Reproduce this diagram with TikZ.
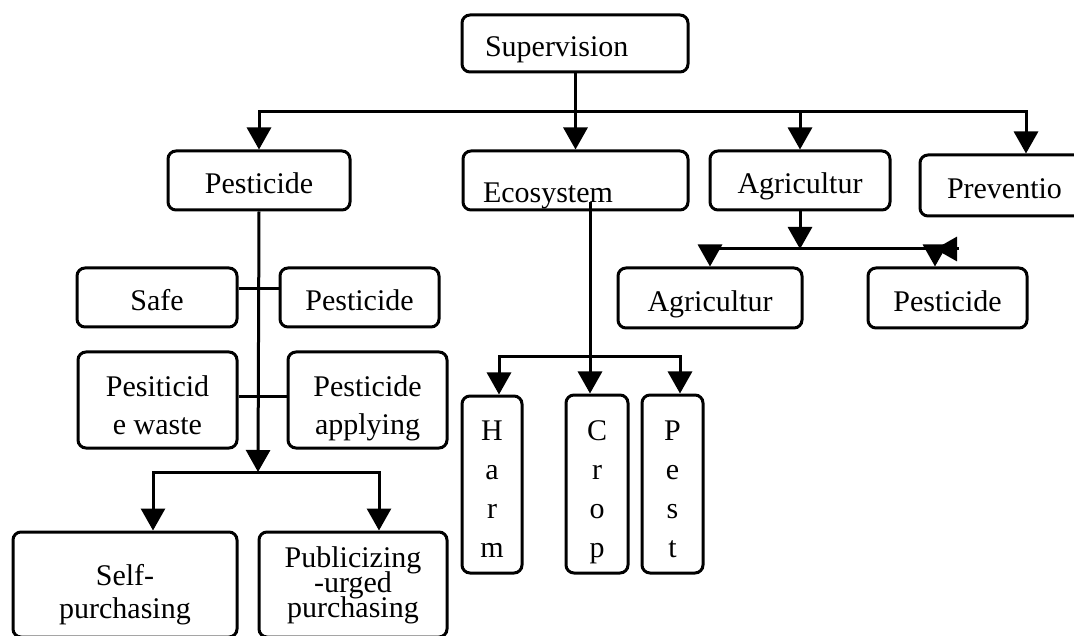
\documentclass[tikz,border=0pt]{standalone}
\usepackage{fontspec}
\setmainfont{Liberation Serif}
\usepackage{tikz}
\usetikzlibrary{arrows.meta, positioning}
\newcommand{\tightlines}{\lineskiplimit=-50pt\relax}

\begin{document}
\begin{tikzpicture}[x=1pt, y=-1pt,
    box/.style={draw, line width=3pt, rounded corners=8pt, inner sep=0pt,
                font=\fontsize{30}{39}\selectfont, text height=27pt, text depth=0pt},
    tallbox/.style={draw, line width=3pt, rounded corners=8pt, inner sep=0pt, align=center,
                font=\fontsize{30}{38}\selectfont\tightlines, text depth=0pt},
    link/.style={line width=3pt},
    arr/.style={line width=3pt, -{Triangle[width=24pt, length=22pt]}}]
    \useasboundingbox (0,0) rectangle (1074,636);

    \node[box, align=left, text width=180pt, inner xsep=23pt, minimum height=57pt] (sup) at (575,43.5) {Supervision};
    \node[box, minimum width=182pt, minimum height=59pt] (pest) at (259,180.5) {Pesticide};
    \node[box, align=left, text width=185pt, inner xsep=20pt, minimum height=59pt, text height=45pt] (eco) at (575.5,180.5) {Ecosystem};
    \node[box, minimum width=180pt, minimum height=59pt] (agri) at (800,180.5) {Agricultur};
    \node[box, align=left, text width=126pt, inner xsep=27pt, minimum height=61pt] (prev) at (1010,185.5) {Preventio};

    \node[box, minimum width=160pt, minimum height=59pt] (safe) at (157,297.5) {Safe};
    \node[box, minimum width=159pt, minimum height=59pt] (pst) at (359.5,297.5) {Pesticide};
    \node[box, minimum width=184pt, minimum height=60pt] (agrisub) at (710,298) {Agricultur};
    \node[box, minimum width=159pt, minimum height=60pt] (pstsub) at (947.5,298) {Pesticide};

    \node[tallbox, minimum width=159pt, minimum height=96pt, text height=68pt] (waste) at (157.5,400) {Pesiticid\\e waste};
    \node[tallbox, minimum width=159pt, minimum height=96pt, text height=68pt] (apply) at (367.5,400) {Pesticide\\applying};
    \node[tallbox, minimum width=224pt, minimum height=105pt, text height=67pt,
          font=\fontsize{30}{33}\selectfont\tightlines] (self) at (125,584.5) {Self-\\purchasing};
    \node[tallbox, minimum width=188pt, minimum height=105pt, text height=65pt,
          font=\fontsize{30}{25}\selectfont\tightlines] (pub) at (353,584.5) {Publicizing\\-urged\\purchasing};

    \node[tallbox, minimum width=60pt, minimum height=177pt, text height=145pt,
          font=\fontsize{30}{39}\selectfont\tightlines] (harm) at (492,484.5) {H\\a\\r\\m};
    \node[tallbox, minimum width=62pt, minimum height=178pt, text height=146pt,
          font=\fontsize{30}{39}\selectfont\tightlines] (crop) at (597,484) {C\\r\\o\\p};
    \node[tallbox, minimum width=61pt, minimum height=178pt, text height=146pt,
          font=\fontsize{30}{39}\selectfont\tightlines] (pestv) at (672.5,484) {P\\e\\s\\t};

    \coordinate (hub) at (575,112);
    \coordinate (barR) at (1026,112);
    \draw[link] (sup.south) -- (hub);
    \foreach \n in {pest, eco, agri}
        \draw[arr] (hub) -| (\n.north);
    \draw[arr] (hub) -| (barR |- prev.north);

    \draw[link] ([yshift=9pt]safe.east) -- ([yshift=9pt]pst.west);
    \draw[link] ([yshift=4pt]waste.east) -- ([yshift=4pt]apply.west);
    \coordinate (pjoin) at (258,472);
    \coordinate (sl) at (153,472);
    \coordinate (sr) at (379,472);
    \draw[arr] (pest.south) -- (pjoin);
    \draw[arr] (pjoin) -| (sl |- self.north);
    \draw[arr] (pjoin) -| (sr |- pub.north);

    \coordinate (ajoin) at (800,249);
    \coordinate (ar) at (935,249);
    \coordinate (astray) at (959,249);
    \draw[arr] (agri.south) -- (ajoin);
    \draw[arr] (ajoin) -| (agrisub.north);
    \draw[arr] (ajoin) -| (ar |- pstsub.north);
    \draw[arr] (astray) -- (ar);

    \coordinate (etop) at (590,202);
    \coordinate (ejoin) at (590,357);
    \coordinate (el) at (499,357);
    \coordinate (er) at (680,357);
    \draw[arr] (etop) -- (etop |- crop.north);
    \draw[arr] (ejoin) -| (el |- harm.north);
    \draw[arr] (ejoin) -| (er |- pestv.north);
\end{tikzpicture}
\end{document}
